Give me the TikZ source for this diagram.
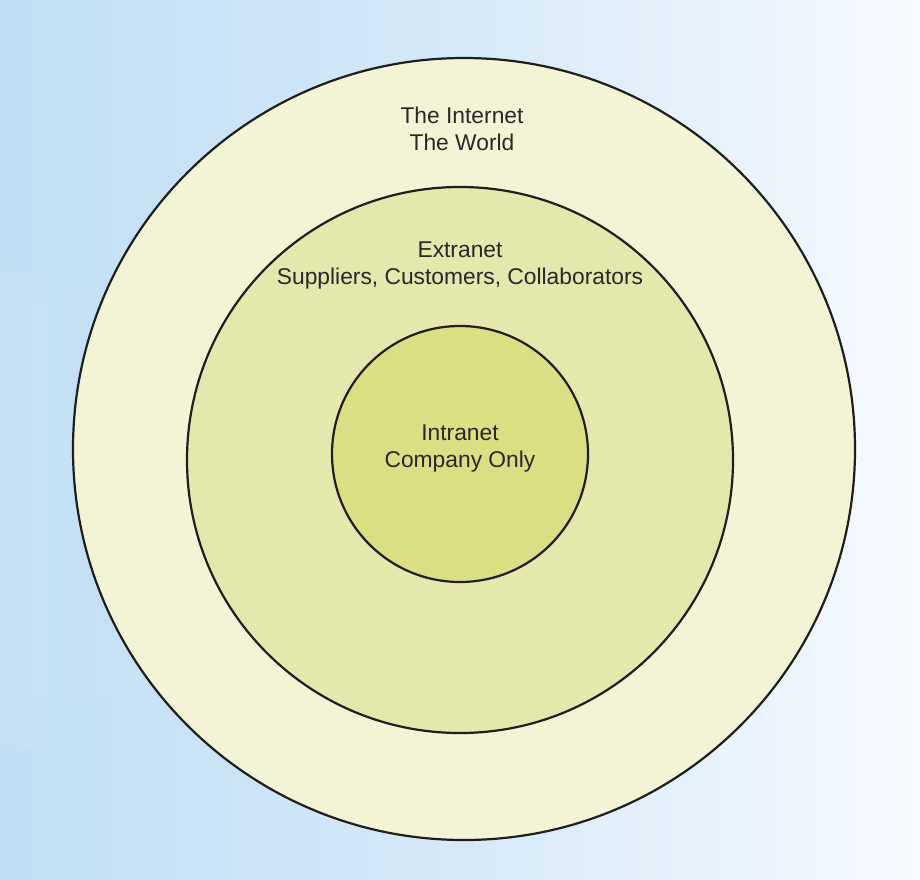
\documentclass[tikz,border=0pt]{standalone}
\usepackage{fontspec}
\setmainfont{Liberation Sans}
\definecolor{bgL}{RGB}{192,222,244}
\definecolor{bgM}{RGB}{214,233,248}
\definecolor{bgR}{RGB}{246,250,254}
\definecolor{ringOut}{RGB}{243,244,214}
\definecolor{ringMid}{RGB}{229,232,172}
\definecolor{ringIn}{RGB}{218,223,132}
\definecolor{lineC}{RGB}{30,30,30}
\definecolor{txtC}{RGB}{40,40,40}
\begin{document}
\begin{tikzpicture}[x=1bp,y=-1bp,
  ring/.style={circle, draw=lineC, line width=2.2bp, inner sep=0pt},
  lbl/.style={align=center, text=txtC, inner sep=0pt,
    font=\fontsize{22.8bp}{27bp}\selectfont}]
\useasboundingbox (0,0) rectangle (920,880);
\shade[left color=bgL, right color=bgR, middle color=bgM] (0,0) rectangle (920,880);
\fill[white, opacity=0.05, rounded corners=30bp] (-40,270) rectangle (48,750);
\fill[white, opacity=0.03, rounded corners=40bp] (-40,300) rectangle (150,700);
\node[ring, fill=ringOut, minimum size=782bp] (internet) at (464,449) {};
\node[ring, fill=ringMid, minimum size=546bp] (extranet) at (460,460) {};
\node[ring, fill=ringIn, minimum size=256bp] (intranet) at (460,454) {};
\node[lbl] (tInternet) at (462,128.5) {The Internet\\The World};
\node[lbl] (tExtranet) at (460,265.5) {Extranet\\Suppliers, Customers, Collaborators};
\node[lbl] (tIntranet) at (460,449) {Intranet\\Company Only};
\end{tikzpicture}
\end{document}
